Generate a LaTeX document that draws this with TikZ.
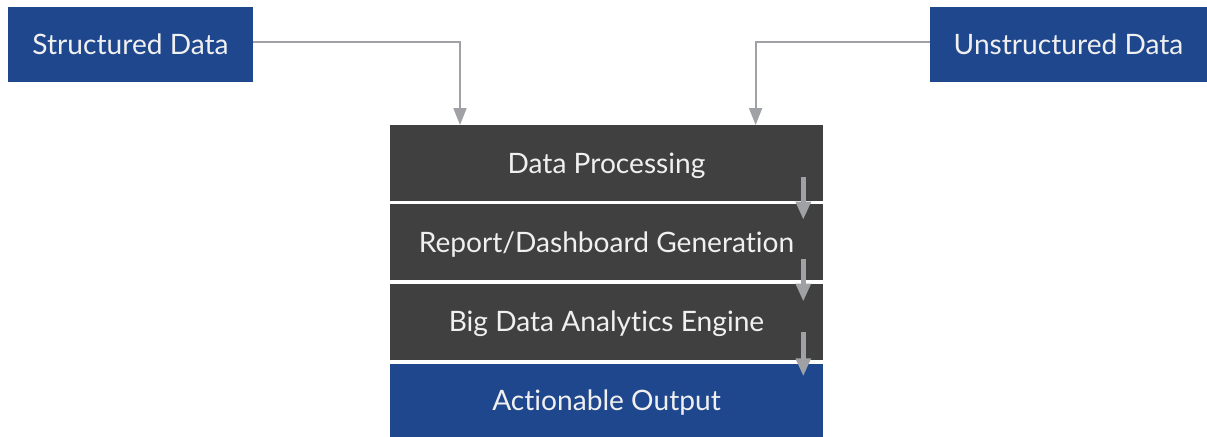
\documentclass[tikz,border=0pt]{standalone}
\usepackage{fontspec}
\setmainfont{Lato}[Ligatures=NoCommon]
\usepackage{tikz}
\usetikzlibrary{arrows.meta}
\definecolor{srcblue}{HTML}{1F478D}
\definecolor{stepgray}{HTML}{404040}
\definecolor{linegray}{HTML}{A0A1A5}
\tikzset{
  box/.style={rectangle,inner sep=0pt,text=white!94!black,
    text height=0.5cm,text depth=0cm,
    font=\fontsize{20}{24}\selectfont},
  src/.style={box,fill=srcblue,minimum width=6.125cm,minimum height=1.875cm},
  stage/.style={box,fill=stepgray,minimum width=10.825cm,minimum height=1.91cm},
  feed/.style={draw=linegray,line width=1.5pt,-{Triangle[length=0.42cm,width=0.32cm]}},
  pass/.style={draw=linegray,line width=3.6pt,-{Triangle[length=0.45cm,width=0.36cm]}}
}
\begin{document}
\begin{tikzpicture}
    \useasboundingbox (0,0) rectangle (30.175,-10.925);

    \node[src] (1) at (3.2625,-1.125) {Structured Data};
    \node[src,minimum width=6.925cm] (2) at (26.7125,-1.125) {Unstructured Data};

    \node[stage] (3) at (15.1625,-4.081) {Data Processing};
    \node[stage] (4) at (15.1625,-6.056) {Report/Dashboard Generation};
    \node[stage,minimum height=1.9cm] (5) at (15.1625,-8.05) {Big Data Analytics Engine};
    \node[stage,fill=srcblue,minimum height=1.825cm] (6) at (15.1625,-10.0125) {Actionable Output};

    % drop points on top of the first stage
    \coordinate (in1) at (11.5,-3.125);
    \coordinate (in2) at (18.89,-3.125);

    \draw[feed] ([yshift=0.08cm]1.east) -| (in1);
    \draw[feed] ([yshift=0.08cm]2.west) -| (in2);

    \path
    ([xshift=-0.5cm,yshift=0.62cm]3.south east) edge[pass] ([xshift=-0.5cm,yshift=-0.45cm]3.south east)
    ([xshift=-0.5cm,yshift=0.55cm]4.south east) edge[pass] ([xshift=-0.5cm,yshift=-0.52cm]4.south east)
    ([xshift=-0.5cm,yshift=0.7cm]5.south east) edge[pass] ([xshift=-0.5cm,yshift=-0.4cm]5.south east);
\end{tikzpicture}
\end{document}
